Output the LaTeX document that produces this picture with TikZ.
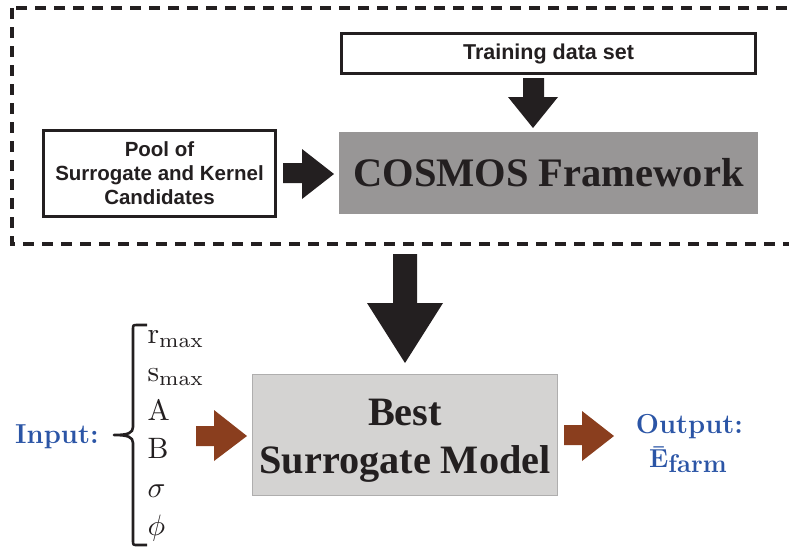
\documentclass[tikz,border=0pt]{standalone}
\usepackage{fontspec}
\newfontfamily\sansb{Liberation Sans}
\newfontfamily\timesb{Liberation Serif}
\definecolor{inkd}{HTML}{231F20}
\definecolor{cosgray}{HTML}{989696}
\definecolor{bestgray}{HTML}{D4D3D2}
\definecolor{bestedge}{HTML}{AFAEAE}
\definecolor{brownarr}{HTML}{8A3E1E}
\definecolor{blueio}{HTML}{2B55A6}
\tikzset{
  whitebox/.style={draw=inkd, line width=3pt, fill=white, inner sep=0pt, align=center, text=inkd},
  fatblack/.style={fill=inkd, draw=none},
  fatbrown/.style={fill=brownarr, draw=none},
  iolabel/.style={text=blueio, inner sep=0pt, font=\fontsize{27.4}{32}\selectfont\bfseries},
  param/.style={inner sep=0pt, anchor=base west, text=inkd, scale=2.95, transform shape},
}
\begin{document}
\begin{tikzpicture}[x=1pt,y=-1pt]
\useasboundingbox (0,0) rectangle (789,547);
% dashed frame
\draw[inkd, line width=4pt, dash pattern=on 11pt off 8pt] (12,8) rectangle (800,244);
% boxes
\node[whitebox, minimum width=414pt, minimum height=40pt,
      font=\sansb\bfseries\fontsize{21.5}{26}\selectfont] (train) at (548.5,53.5) {Training data set};
\node[whitebox, minimum width=232pt, minimum height=86pt,
      font=\sansb\bfseries\fontsize{20.5}{24}\selectfont] (pool) at (159.5,173.5)
      {Pool of\\Surrogate and Kernel\\Candidates};
\node[fill=cosgray, minimum width=419pt, minimum height=82pt, inner sep=0pt, text=inkd,
      font=\timesb\bfseries\fontsize{40.5}{48}\selectfont] (cosmos) at (548.5,173) {COSMOS Framework};
\node[fill=bestgray, draw=bestedge, line width=1pt, minimum width=305pt, minimum height=121pt,
      inner sep=0pt, text=inkd] (best) at (405,435) {};
\node[inner sep=0pt, align=center, text=inkd, anchor=base,
      font=\timesb\bfseries\fontsize{40.3}{48}\selectfont] (besttext) at (405,473) {Best\\Surrogate Model};
% fat arrows
\fill[fatblack] (523,78) -- (544,78) -- (544,97) -- (558,97) -- (533,128) -- (508,97) -- (523,97) -- cycle;
\fill[fatblack] (283,163) -- (302,163) -- (302,149) -- (334,174) -- (302,199) -- (302,183) -- (283,183) -- cycle;
\fill[fatblack] (393,254) -- (417,254) -- (417,303) -- (443,303) -- (405,363) -- (367,303) -- (393,303) -- cycle;
\fill[fatbrown] (196,426) -- (214,426) -- (214,410) -- (247,436) -- (214,461) -- (214,446) -- (196,446) -- cycle;
\fill[fatbrown] (564,425) -- (582,425) -- (582,411) -- (614,436) -- (582,461) -- (582,445) -- (564,445) -- cycle;
% input / output
\node[iolabel, anchor=base west] (input) at (15,443) {Input:};
\node[iolabel, anchor=base] (output) at (689.5,433) {Output:};
\node[iolabel, anchor=base west] (efarm) at (649,467)
  {{\fontsize{26}{30}\selectfont Ē}\raisebox{-5pt}{\fontsize{25.5}{28}\selectfont farm}};
% brace
\draw[inkd, line width=2.6pt, line join=round]
  (147,325) -- (137,325) .. controls (133,325) .. (133,330) -- (133,427)
  .. controls (133,433) and (128,435) .. (114,435)
  .. controls (128,435) and (133,437) .. (133,443) -- (133,540)
  .. controls (133,545) .. (137,545) -- (147,545);
% parameters
\node[param] (p1) at (147,343) {$\mathrm{r_{max}}$};
\node[param] (p2) at (147,381.5) {$\mathrm{s_{max}}$};
\node[param] (p3) at (147,420) {A};
\node[param] (p4) at (147,458.5) {B};
\node[param] (p5) at (147,497) {$\sigma$};
\node[param] (p6) at (147,535) {$\phi$};
\end{tikzpicture}
\end{document}
